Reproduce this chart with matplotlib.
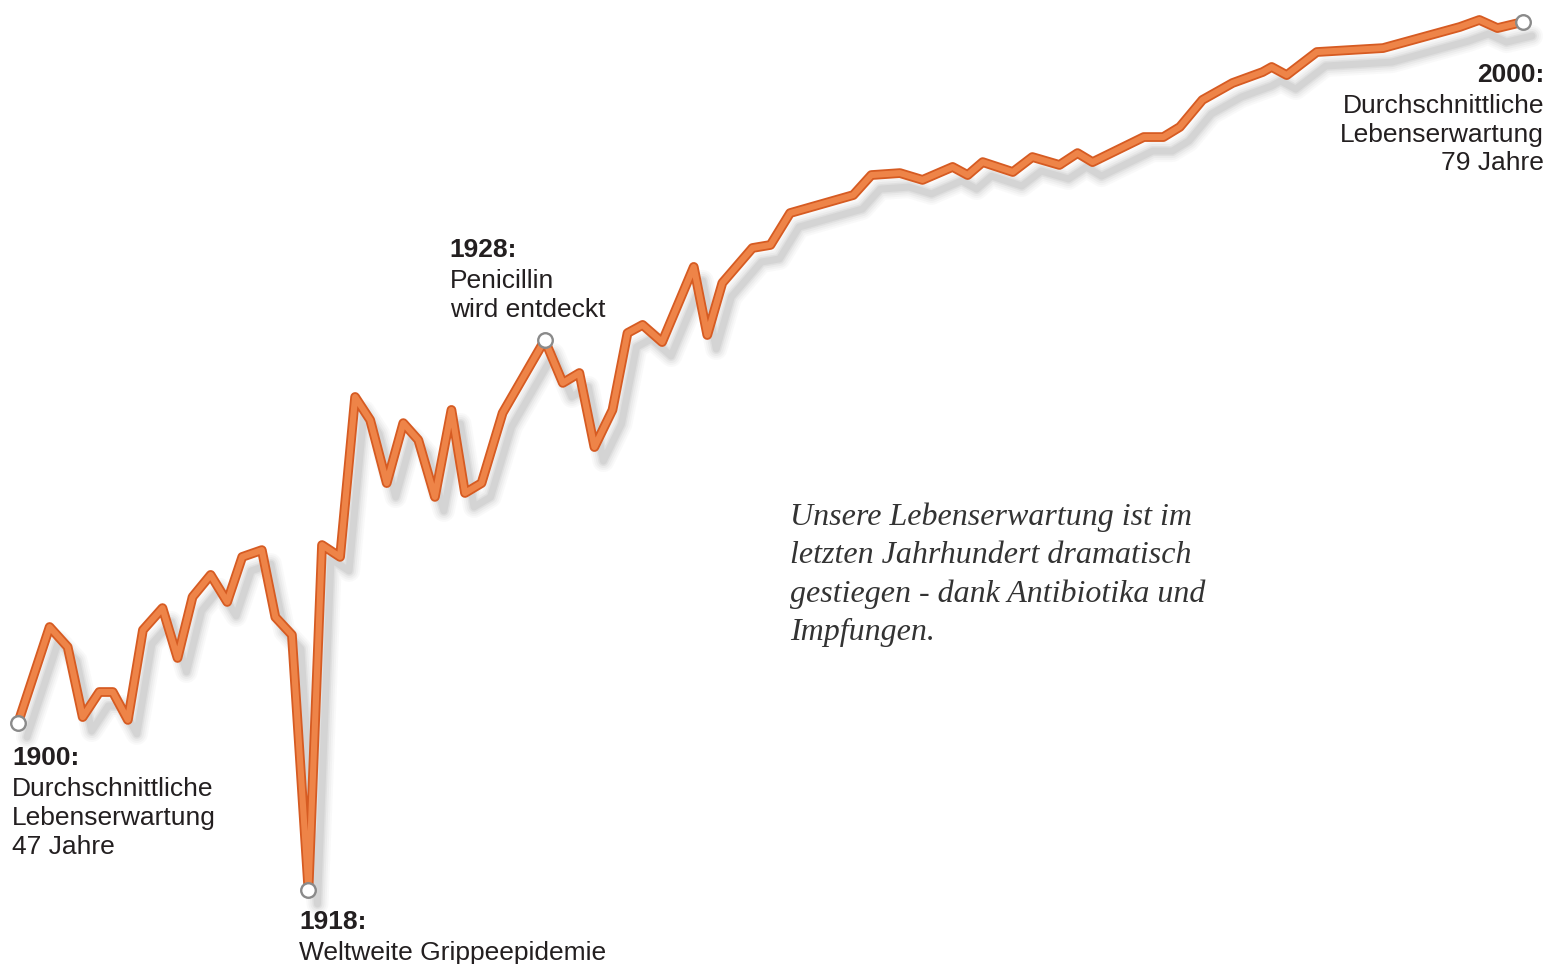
import matplotlib
matplotlib.use("Agg")
import matplotlib.pyplot as plt
from matplotlib.transforms import offset_copy
import matplotlib.patheffects as pe

# --- data (position along the timeline, life expectancy in years) ---
years = [1900.0, 1902.1, 1903.3, 1904.3, 1905.4, 1906.3, 1907.3, 1908.3, 1909.6, 1910.6,
         1911.6, 1912.8, 1913.9, 1914.9, 1916.2, 1917.1, 1918.2, 1919.3, 1920.2, 1921.4,
         1922.4, 1923.4, 1924.5, 1925.6, 1926.6, 1927.7, 1928.8, 1929.7, 1930.8, 1932.2,
         1935.0, 1936.2, 1937.3, 1938.3, 1939.5, 1940.5, 1941.5, 1942.8, 1944.9, 1945.8,
         1946.8, 1948.8, 1950.0, 1951.3, 1955.5, 1956.7, 1958.6, 1960.1, 1962.1, 1963.1,
         1964.1, 1966.1, 1967.4, 1969.2, 1970.4, 1971.4, 1974.8, 1976.1, 1977.2, 1978.7,
         1980.7, 1982.7, 1983.3, 1984.3, 1986.3, 1990.7, 1995.8, 1997.1, 1998.3, 2000.0]
life_exp = [47.0, 51.37, 50.46, 47.27, 48.41, 48.41, 47.14, 51.23, 52.23, 49.96,
            52.74, 53.74, 52.51, 54.56, 54.87, 51.82, 51.01, 39.40, 55.10, 54.56,
            61.84, 60.79, 57.92, 60.65, 59.88, 57.29, 61.25, 57.47, 57.92, 61.11,
            64.43, 62.48, 62.93, 59.56, 61.25, 64.75, 65.12, 64.34, 67.76, 64.66,
            67.03, 68.62, 68.76, 70.21, 71.03, 71.94, 72.03, 71.72, 72.31, 71.94,
            72.53, 72.08, 72.76, 72.40, 72.94, 72.53, 73.67, 73.67, 74.13, 75.36,
            76.13, 76.63, 76.86, 76.49, 77.54, 77.72, 78.68, 79.00, 78.63, 78.91]

# highlighted points (index into the series)
marker_idx = [0, 17, 30, 69]
marker_heads = ["1900:", "1918:", "1928:", "2000:"]
marker_bodies = ["Durchschnittliche\nLebenserwartung\n47 Jahre",
                 "Weltweite Grippeepidemie",
                 "Penicillin\nwird entdeckt",
                 "Durchschnittliche\nLebenserwartung\n79 Jahre"]
note_text = ("Unsere Lebenserwartung ist im\nletzten Jahrhundert dramatisch\n"
             "gestiegen - dank Antibiotika und\nImpfungen.")

W, H = 1548, 964
fig = plt.figure(figsize=(W / 100, H / 100), dpi=100)
ax = fig.add_axes([0, 0, 1, 1])
px_per_year = 15.05
px_per_val = 21.97
ax.set_xlim(1900 - 18 / px_per_year, 1900 + (W - 18) / px_per_year)
ax.set_ylim(47 - (H - 723) / px_per_val, 47 + 723 / px_per_val)
ax.axis("off")

# soft drop shadow: several offset, widening, faint strokes
for w, a in [(22, 0.035), (18, 0.045), (14, 0.06), (10, 0.08), (7, 0.09)]:
    tr = offset_copy(ax.transData, fig=fig, x=9, y=-14, units="dots")
    ax.plot(years, life_exp, color="#6a6a6a", lw=w * 0.72, alpha=a,
            solid_joinstyle="round", solid_capstyle="round", transform=tr, zorder=1)

# main line: darker outline with lighter core
ax.plot(years, life_exp, color="#EE8448", lw=4.4, solid_joinstyle="round",
        solid_capstyle="round", zorder=3,
        path_effects=[pe.Stroke(linewidth=7.0, foreground="#D65B22"), pe.Normal()])

# highlighted markers
mx = [years[i] for i in marker_idx]
my = [life_exp[i] for i in marker_idx]
ax.scatter(mx, my, s=110, facecolor="white", edgecolor="#8a8a8a", linewidth=1.7, zorder=4)

font = "Liberation Sans"
txtc = "#231F20"
fs = 19
# (dx, dy) pixel offsets of the header's top and alignment per marker
layouts = [(-6, -23, "left"), (-9, -20, "left"), (-95, 102, "left"), (21, -41, "right")]
for (dx, dy, ha), i, head, body in zip(layouts, marker_idx, marker_heads, marker_bodies):
    tr_h = offset_copy(ax.transData, fig=fig, x=dx, y=dy, units="dots")
    ax.text(years[i], life_exp[i], head, transform=tr_h, ha=ha, va="top",
            fontsize=fs, fontweight="bold", family=font, color=txtc, zorder=5)
    tr_b = offset_copy(ax.transData, fig=fig, x=dx, y=dy - 31, units="dots")
    ax.text(years[i], life_exp[i], body, transform=tr_b, ha=ha, va="top",
            fontsize=fs, family=font, color=txtc, linespacing=1.25, zorder=5,
            multialignment=ha)

ax.text(790 / W, 1 - 502 / H, note_text, transform=ax.transAxes, ha="left", va="top",
        fontsize=23, family="Liberation Serif", style="italic", color="#333333",
        linespacing=1.42)

fig.savefig("out.png", dpi=100)
